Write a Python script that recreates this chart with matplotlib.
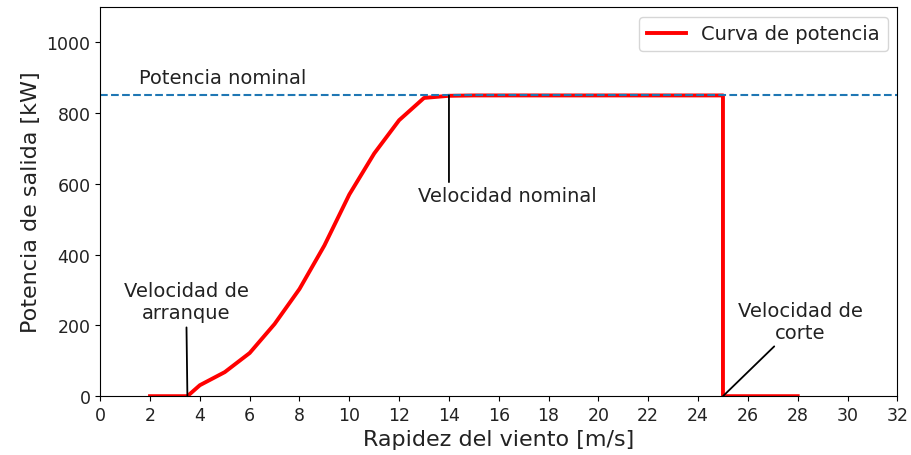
import numpy as np
import matplotlib.pyplot as plt

plt.rcParams['font.family'] = ['DejaVu Sans']
plt.rcParams['text.color'] = '#222222'
plt.rcParams['axes.labelcolor'] = '#222222'
plt.rcParams['xtick.labelcolor'] = '#222222'
plt.rcParams['ytick.labelcolor'] = '#222222'

# curva de potencia
viento = [2, 3.5, 4, 5, 6, 7, 8, 9, 10, 11, 12, 13, 14, 15, 16, 17, 18, 19, 20,
          21, 22, 23, 24, 25, 25, 28]
potencia = [0, 0, 31, 68, 122, 204, 303, 426, 570, 686, 780, 843, 849, 850, 850,
            850, 850, 850, 850, 850, 850, 850, 850, 850, 0, 0]
p_nominal = 850
v_arranque = 3.5
v_nominal = 14
v_corte = 25

fig, ax = plt.subplots(figsize=(9.11, 4.56), dpi=100)
fig.subplots_adjust(left=0.11, right=0.985, top=0.9825, bottom=0.129)

ax.plot(viento, potencia, color='red', lw=2.8, label='Curva de potencia')
ax.axhline(p_nominal, color='tab:blue', ls='--', lw=1.5)
ax.text(4.9, 900, 'Potencia nominal', ha='center', va='center', fontsize=14)

ax.annotate('Velocidad de\narranque', xy=(v_arranque, 0), xytext=(3.45, 268),
            ha='center', va='center', fontsize=14,
            arrowprops=dict(arrowstyle='-', color='black', lw=1.3, shrinkB=0))
ax.annotate('', xy=(v_nominal, p_nominal), xytext=(v_nominal, 605),
            arrowprops=dict(arrowstyle='-', color='black', lw=1.3,
                            shrinkA=0, shrinkB=0))
ax.text(16.35, 568, 'Velocidad nominal', ha='center', va='center', fontsize=14)
ax.annotate('Velocidad de\ncorte', xy=(v_corte, 0), xytext=(28.1, 212),
            ha='center', va='center', fontsize=14,
            arrowprops=dict(arrowstyle='-', color='black', lw=1.3, shrinkB=0))

ax.set_xlim(0, 32)
ax.set_ylim(0, 1100)
ax.set_xticks(np.arange(0, 33, 2))
ax.set_yticks(np.arange(0, 1001, 200))
ax.tick_params(labelsize=12.5)
ax.set_xlabel('Rapidez del viento [m/s]', fontsize=16)
ax.set_ylabel('Potencia de salida [kW]', fontsize=16)
ax.legend(loc='upper right', fontsize=14)

plt.savefig('out.png')
